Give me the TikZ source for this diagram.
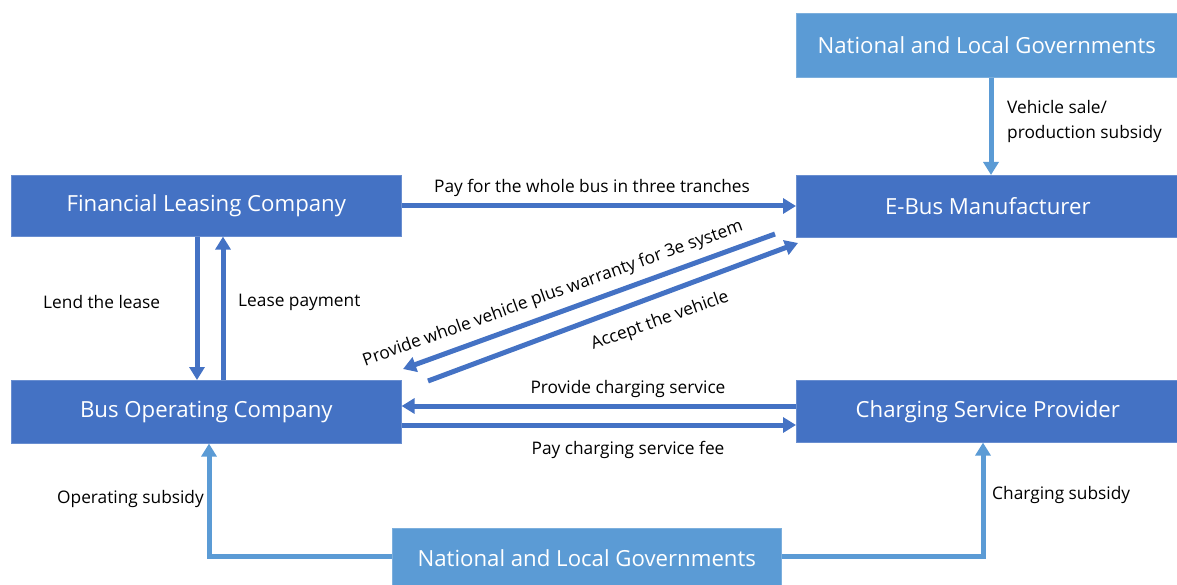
\documentclass[tikz,border=0pt]{standalone}
\usepackage{fontspec}
\setmainfont{Open Sans}
\usetikzlibrary{arrows.meta}
\definecolor{dblue}{HTML}{4472C4}
\definecolor{lblue}{HTML}{5B9BD5}
\newcommand{\boxtxt}[1]{\raisebox{-2pt}{#1}}
\tikzset{
  dbox/.style={fill=dblue,draw=dblue!80!white,line width=0.6pt,text=white,font=\fontsize{22.2}{25}\selectfont,inner sep=0pt,anchor=north west},
  lbox/.style={fill=lblue,draw=lblue!80!white,line width=0.6pt,text=white,font=\fontsize{22.2}{25}\selectfont,inner sep=0pt,anchor=north west},
  flow/.style={draw=dblue,line width=5pt,-{Triangle[width=15pt,length=13pt]}},
  lflow/.style={draw=lblue,line width=5pt,-{Triangle[width=15pt,length=13pt]}},
  lab/.style={font=\fontsize{17.3}{25}\selectfont,text=black,inner sep=0pt,yshift=-2pt},
}
\begin{document}
\begin{tikzpicture}[x=1pt,y=-1pt]
\useasboundingbox (0,0) rectangle (1177,585);
\node[lbox,minimum width=381pt,minimum height=64pt] (gtop) at (796,13) {\boxtxt{National and Local Governments}};
\node[dbox,minimum width=390pt,minimum height=61pt] (flc) at (11,175) {\boxtxt{Financial Leasing Company}};
\node[dbox,minimum width=383pt,minimum height=62pt] (ebm) at (796,175) {\boxtxt{E-Bus Manufacturer}};
\node[dbox,minimum width=390pt,minimum height=63pt] (boc) at (11,380) {\boxtxt{Bus Operating Company}};
\node[dbox,minimum width=383pt,minimum height=62pt] (csp) at (796,380) {\boxtxt{Charging Service Provider}};
\node[lbox,minimum width=389pt,minimum height=60pt] (gbot) at (392,528) {\boxtxt{National and Local Governments}};

% coordinates
\coordinate (gtopS) at (991,77);
\coordinate (ebmN) at (991,175);
\coordinate (flcE) at (401,206);
\coordinate (ebmW) at (796,206);
\coordinate (flcS1) at (197,236);
\coordinate (bocN1) at (197,380);
\coordinate (bocN2) at (223,380);
\coordinate (flcS2) at (223,236);
\coordinate (pv1) at (775,234);
\coordinate (pv2) at (403,369);
\coordinate (av1) at (428,381);
\coordinate (av2) at (798,243);
\coordinate (cspW1) at (796,406);
\coordinate (bocE1) at (401,406);
\coordinate (bocE2) at (401,425);
\coordinate (cspW2) at (796,425);
\coordinate (gbotW) at (392,556);
\coordinate (bocS) at (209,443);
\coordinate (gbotE) at (781,556);
\coordinate (cspS) at (983,442);

\draw[lflow] (gtop.south -| gtopS) -- (ebm.north -| ebmN);
\draw[flow] (flc.east |- flcE) -- (ebm.west |- ebmW);
\draw[flow] (flc.south -| flcS1) -- (boc.north -| bocN1);
\draw[flow] (boc.north -| bocN2) -- (flc.south -| flcS2);
\draw[flow] (pv1) -- (pv2);
\draw[flow] (av1) -- (av2);
\draw[flow] (csp.west |- cspW1) -- (boc.east |- bocE1);
\draw[flow] (boc.east |- bocE2) -- (csp.west |- cspW2);
\draw[lflow] (gbot.west |- gbotW) -| (boc.south -| bocS);
\draw[lflow] (gbot.east |- gbotE) -| (csp.south -| cspS);

% labels
\node[lab,anchor=west,align=left] (l1) at (1007,120) {Vehicle sale/\\production subsidy};
\node[lab] (l2) at (592,186) {Pay for the whole bus in three tranches};
\node[lab,anchor=west] (l3) at (43,300) {Lend the lease};
\node[lab,anchor=west] (l4) at (238,300) {Lease payment};
\node[lab,rotate=19.7] (l5) at (553,292) {Provide whole vehicle plus warranty for 3e system};
\node[lab,rotate=19.7] (l6) at (660,319) {Accept the vehicle};
\node[lab] (l7) at (628,387) {Provide charging service};
\node[lab] (l8) at (628,448) {Pay charging service fee};
\node[lab,anchor=west] (l9) at (57,497) {Operating subsidy};
\node[lab,anchor=west] (l10) at (992,493) {Charging subsidy};
\end{tikzpicture}
\end{document}
